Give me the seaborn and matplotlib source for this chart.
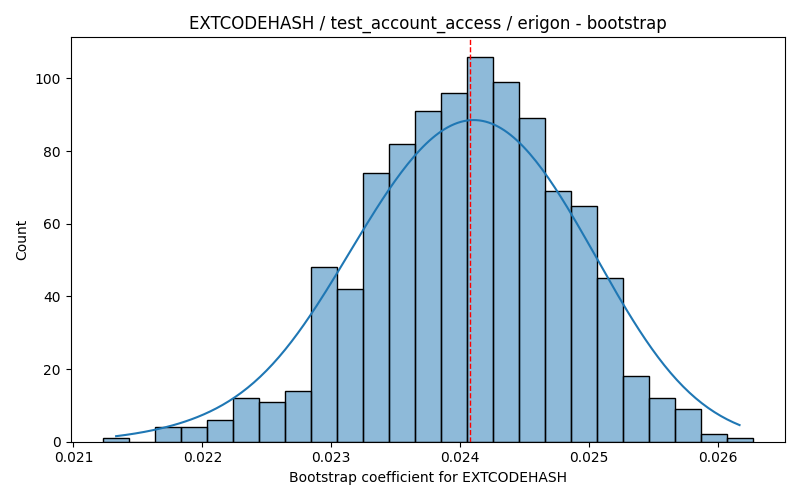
import numpy as np
import pandas as pd
import matplotlib
matplotlib.use("Agg")
import matplotlib.pyplot as plt
import seaborn as sns

# bin counts
bin_start = 0.02123
bin_end = 0.02627
counts = [1, 0, 4, 4, 6, 12, 11, 14, 48, 42, 74, 82, 91, 96, 106, 99, 89, 69, 65, 45, 18, 12, 9, 2, 1]
ref_value = 0.02408

edges = np.linspace(bin_start, bin_end, len(counts) + 1)
centers = (edges[:-1] + edges[1:]) / 2
df = pd.DataFrame({"coef": centers, "n": counts})

fig, ax = plt.subplots(figsize=(8, 5), dpi=100)
sns.histplot(data=df, x="coef", weights="n", bins=len(counts),
             binrange=(bin_start, bin_end), kde=True, ax=ax)
ax.axvline(ref_value, color="red", linestyle="--", linewidth=1)
ax.set_title("EXTCODEHASH / test_account_access / erigon - bootstrap")
ax.set_xlabel("Bootstrap coefficient for EXTCODEHASH")
ax.set_ylabel("Count")
plt.tight_layout()
plt.savefig("out.png")
